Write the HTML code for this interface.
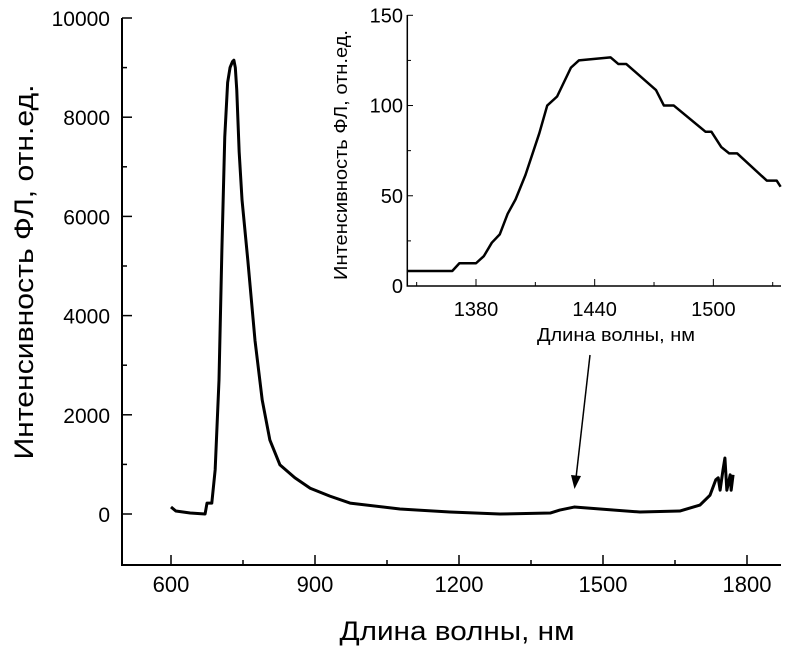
<!DOCTYPE html>
<html><head><meta charset="utf-8">
<style>body{margin:0;background:#fff}svg{display:block}text{font-family:"Liberation Sans",Arial,sans-serif;fill:#000}</style>
</head><body>
<svg id="chart" width="800" height="647" viewBox="0 0 800 647" xmlns="http://www.w3.org/2000/svg"></svg>
<script>
const mainX=[600,610,640,671,675,685,692,700,706,712,718,723,728,731,734,737,742,748,760,775,790,806,827,858,890,931,973,1077,1181,1285,1390,1410,1440,1494,1577,1660,1702,1723,1735,1740,1744,1750,1754,1758,1765,1767,1771];
const mainY=[141,60,20,0,220,220,890,2700,5320,7600,8700,9000,9120,9150,9000,8550,7300,6330,5120,3500,2300,1490,990,730,520,360,220,100,40,0,20,80,140,100,40,60,180,380,690,730,480,890,1130,480,790,480,790];
const mainXTicks=[600,900,1200,1500,1800];
const mainYTicks=[0,2000,4000,6000,8000,10000];
const insetX=[1345,1368,1371.6,1380,1384,1388,1392,1396,1400,1405,1412,1416,1421,1428,1432,1448,1452,1456,1471,1475,1480,1496,1499,1504,1508,1512,1527,1532,1534];
const insetY=[8.3,8.3,12.6,12.6,16.6,24,28.6,40,48,61.5,84.6,100,105,121,125,126.7,123,123,108.6,100,100,85.5,85.5,77,73.5,73.5,58.4,58.4,55];
const insetXTicks=[1380,1440,1500];
const insetYTicks=[0,50,100,150];

const svg=document.getElementById('chart');
const NS='http://www.w3.org/2000/svg';
function mk(tag,attrs,txt){const e=document.createElementNS(NS,tag);for(const k in attrs)e.setAttribute(k,attrs[k]);if(txt!==undefined)e.textContent=txt;svg.appendChild(e);return e;}

const mx=v=>171+(v-600)*0.48;
const my=v=>514-v*0.0496;
let e;
e=mk('path',{d:'M122,18 V565 H781',fill:'none',stroke:'#000','stroke-width':2});


for(let v=750;v<=1800;v+=300){e=mk('line',{x1:mx(v),x2:mx(v),y1:565,y2:560,stroke:'#000','stroke-width':1.5});}
mainXTicks.forEach(v=>{
 e=mk('line',{x1:mx(v),x2:mx(v),y1:565,y2:555,stroke:'#000','stroke-width':1.5});
 
 
 e=mk('text',{x:mx(v),y:592,'font-size':22,'text-anchor':'middle'},v);
 
 
});
for(let v=1000;v<=9000;v+=2000){e=mk('line',{x1:122,x2:127,y1:my(v),y2:my(v),stroke:'#000','stroke-width':1.5});}
mainYTicks.forEach(v=>{
 e=mk('line',{x1:122,x2:132,y1:my(v),y2:my(v),stroke:'#000','stroke-width':1.5});
 
 
 e=mk('text',{x:110,y:my(v)+8,'font-size':21,'text-anchor':'end'},v);
 
 
});
e=mk('text',{x:457,y:640,'font-size':27,'text-anchor':'middle',textLength:235,lengthAdjust:'spacingAndGlyphs'},'Длина волны, нм');


e=mk('text',{x:0,y:0,'font-size':27,'text-anchor':'middle',textLength:375,lengthAdjust:'spacingAndGlyphs',transform:'translate(33,272) rotate(-90)'},'Интенсивность ФЛ, отн.ед.');


e=mk('polyline',{points:mainX.map((x,i)=>mx(x)+','+my(mainY[i])).join(' '),fill:'none',stroke:'#000','stroke-width':3,'stroke-linejoin':'round'});



e=mk('line',{x1:590,y1:355,x2:576,y2:478,stroke:'#000','stroke-width':1.5});


e=mk('polygon',{points:'574.5,489 571,475 581,476',fill:'#000'});



const ix=v=>476+(v-1380)*1.978;
const iy=v=>286-v*(270.7/150);
e=mk('path',{d:'M407.3,15 V286 H781',fill:'none',stroke:'#000','stroke-width':1.5});


[1350,1410,1470,1530].forEach(v=>{e=mk('line',{x1:ix(v),x2:ix(v),y1:286,y2:282,stroke:'#000','stroke-width':1});});
insetXTicks.forEach(v=>{
 e=mk('line',{x1:ix(v),x2:ix(v),y1:286,y2:279,stroke:'#000','stroke-width':1});
 
 
 e=mk('text',{x:ix(v),y:316,'font-size':20,'text-anchor':'middle'},v);
 
 
});
insetYTicks.forEach(v=>{
 e=mk('line',{x1:407.3,x2:413,y1:iy(v),y2:iy(v),stroke:'#000','stroke-width':1});
 
 
 e=mk('text',{x:403,y:iy(v)+7,'font-size':20,'text-anchor':'end'},v);
 
 
});
[25,75,125].forEach(v=>{e=mk('line',{x1:407.3,x2:411,y1:iy(v),y2:iy(v),stroke:'#000','stroke-width':1});});
e=mk('text',{x:616,y:341,'font-size':18,'text-anchor':'middle',textLength:158,lengthAdjust:'spacingAndGlyphs'},'Длина волны, нм');


e=mk('text',{x:0,y:0,'font-size':18,'text-anchor':'middle',textLength:250,lengthAdjust:'spacingAndGlyphs',transform:'translate(347,155) rotate(-90)'},'Интенсивность ФЛ, отн.ед.');


e=mk('polyline',{points:insetX.map((x,i)=>ix(x)+','+iy(insetY[i])).join(' '),fill:'none',stroke:'#000','stroke-width':2.5,'stroke-linejoin':'round'});


</script>
</body></html>
